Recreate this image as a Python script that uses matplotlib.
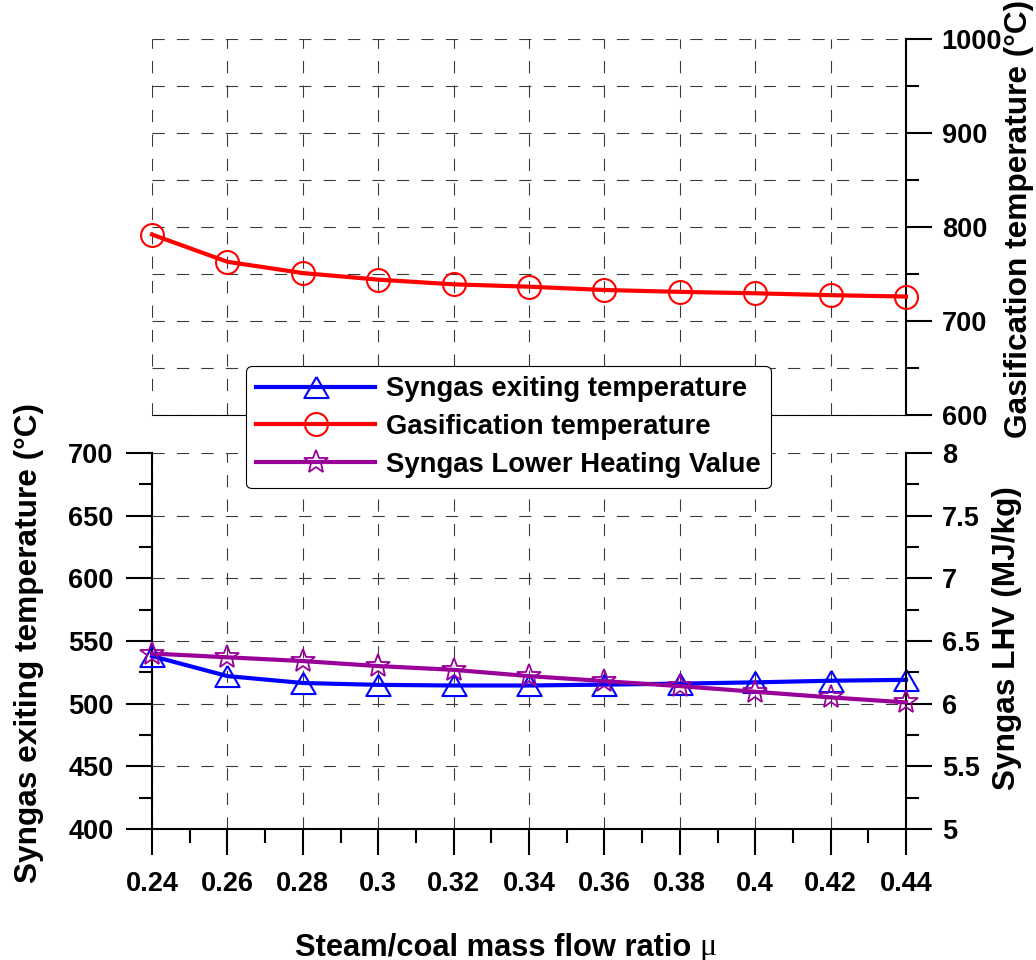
import matplotlib
matplotlib.use("Agg")
import matplotlib.pyplot as plt
import numpy as np
from matplotlib.ticker import MultipleLocator, FixedLocator
from matplotlib.lines import Line2D

plt.rcParams['font.family'] = ['Liberation Sans', 'DejaVu Sans']
plt.rcParams['font.weight'] = 'bold'

# ---- data ----
ratio = [0.24, 0.26, 0.28, 0.30, 0.32, 0.34, 0.36, 0.38, 0.40, 0.42, 0.44]
gasif_temp = [792, 763, 751, 744, 739, 736.5, 733, 731, 729.5, 727.5, 726]
syngas_exit_temp = [538, 522, 516.5, 515, 514.5, 514.5, 515.2, 516, 517, 518.3, 519]
syngas_lhv = [6.40, 6.37, 6.34, 6.30, 6.27, 6.22, 6.18, 6.14, 6.095, 6.05, 6.01]
xticks = [0.24, 0.26, 0.28, 0.30, 0.32, 0.34, 0.36, 0.38, 0.40, 0.42, 0.44]
xtick_labels = ['0.24', '0.26', '0.28', '0.3', '0.32', '0.34', '0.36', '0.38', '0.4', '0.42', '0.44']
labels = ['Syngas exiting temperature', 'Gasification temperature', 'Syngas Lower Heating Value']

BLUE = '#0000ff'
RED = '#ff0000'
PURPLE = '#990099'
GRIDC = '#3a3a3a'
grid_kw = dict(color=GRIDC, linewidth=0.8, linestyle=(0, (11, 11)))

FW, FH = 1036, 960
fig = plt.figure(figsize=(FW / 100, FH / 100), dpi=100)

L = 152 / FW
W = 754 / FW
H = 376 / FH
ax_t = fig.add_axes([L, 1 - 415 / FH, W, H])
ax_b = fig.add_axes([L, 1 - 829 / FH, W, H])
ax_r = ax_b.twinx()

tri = [(0, 0.5), (-0.577, -0.5), (0.577, -0.5), (0, 0.5)]

TICK = 19.5

# ---- top panel ----
ax_t.set_xlim(0.24, 0.44)
ax_t.set_ylim(600, 1000)
ax_t.plot(ratio, gasif_temp, color=RED, lw=3, marker='o', ms=16.5, mfc='none',
          mec=RED, mew=1.5, clip_on=False, zorder=5)
for s in ['left', 'top']:
    ax_t.spines[s].set_visible(False)
ax_t.spines['right'].set_linewidth(1.5)
ax_t.spines['bottom'].set_linewidth(0.8)
ax_t.yaxis.tick_right()
ax_t.yaxis.set_major_locator(MultipleLocator(100))
ax_t.yaxis.set_minor_locator(MultipleLocator(50))
ax_t.xaxis.set_major_locator(FixedLocator(xticks))
ax_t.tick_params(axis='x', which='both', length=0, labelbottom=False)
ax_t.tick_params(axis='y', which='major', direction='out', length=18.7, width=1.5,
                 labelsize=TICK, pad=7)
ax_t.tick_params(axis='y', which='minor', direction='out', length=9.4, width=1.5)
ax_t.set_axisbelow(True)
ax_t.grid(True, which='both', axis='y', **grid_kw)
ax_t.grid(True, which='major', axis='x', **grid_kw)

# ---- bottom panel ----
ax_b.set_xlim(0.24, 0.44)
ax_b.set_ylim(400, 700)
ax_r.set_ylim(5, 8)
ax_b.plot(ratio, syngas_exit_temp, color=BLUE, lw=3, marker=tri, ms=17.5, mfc='none',
          mec=BLUE, mew=1.5, clip_on=False, zorder=5)
ax_r.plot(ratio, syngas_lhv, color=PURPLE, lw=3, marker='*', ms=18, mfc='none',
          mec=PURPLE, mew=1.3, clip_on=False, zorder=5)
ax_b.spines['top'].set_visible(False)
ax_b.spines['right'].set_visible(False)
for s in ['left', 'top', 'bottom']:
    ax_r.spines[s].set_visible(False)
for s in ['left', 'bottom']:
    ax_b.spines[s].set_linewidth(1.5)
ax_r.spines['right'].set_linewidth(1.5)

ax_b.xaxis.set_major_locator(FixedLocator(xticks))
ax_b.xaxis.set_minor_locator(MultipleLocator(0.01))
ax_b.set_xticklabels(xtick_labels)
ax_b.yaxis.set_major_locator(MultipleLocator(50))
ax_b.yaxis.set_minor_locator(MultipleLocator(25))
ax_r.yaxis.set_minor_locator(MultipleLocator(0.25))
ax_r.set_yticks([5, 5.5, 6, 6.5, 7, 7.5, 8])
ax_r.set_yticklabels(['5', '5.5', '6', '6.5', '7', '7.5', '8'])

ax_b.tick_params(axis='x', which='major', direction='out', length=18.7, width=1.5,
                 labelsize=TICK, pad=11.5)
ax_b.tick_params(axis='x', which='minor', direction='out', length=10, width=1.5)
ax_b.tick_params(axis='y', which='major', direction='out', length=18.7, width=1.5,
                 labelsize=TICK, pad=9)
ax_b.tick_params(axis='y', which='minor', direction='out', length=9.4, width=1.5)
ax_r.tick_params(axis='y', which='major', direction='out', length=18.7, width=1.5,
                 labelsize=TICK, pad=7)
ax_r.tick_params(axis='y', which='minor', direction='out', length=9.4, width=1.5)
ax_b.set_axisbelow(True)
ax_b.grid(True, which='major', axis='both', **grid_kw)

# ---- axis labels ----
LAB = 22.8
lab_kw = dict(fontsize=LAB, fontweight='bold', rotation=90, ha='center', va='center')
fig.text(29 / FW, 1 - 643 / FH, 'Syngas exiting temperature (°C)', **lab_kw)
fig.text(1007 / FW, 1 - 638 / FH, 'Syngas LHV (MJ/kg)', **lab_kw)
fig.text(1019 / FW, 1 - 219 / FH, 'Gasification temperature (°C)', **lab_kw)

t1 = fig.text(0, 1 - 955 / FH, 'Steam/coal mass flow ratio ', fontsize=22.2,
              fontweight='bold', ha='left', va='baseline')
t2 = fig.text(0, 1 - 955 / FH, 'μ', fontsize=23, family=['Liberation Serif', 'DejaVu Serif'],
              fontweight='normal', ha='left', va='baseline')
fig.canvas.draw()
r = fig.canvas.get_renderer()
w1 = t1.get_window_extent(r).width
w2 = t2.get_window_extent(r).width
x0 = 506 - (w1 + w2) / 2
t1.set_x(x0 / FW)
t2.set_x((x0 + w1) / FW)

# ---- legend ----
handles = [
    Line2D([], [], color=BLUE, lw=3, marker=tri, ms=17.5, mfc='none', mec=BLUE, mew=1.5),
    Line2D([], [], color=RED, lw=3, marker='o', ms=16.5, mfc='none', mec=RED, mew=1.5),
    Line2D([], [], color=PURPLE, lw=3, marker='*', ms=18, mfc='none', mec=PURPLE, mew=1.3),
]
leg = fig.legend(handles, labels, loc='upper left', bbox_to_anchor=(246 / FW, 1 - 366 / FH),
                 borderaxespad=0, fontsize=19.8, handlelength=4.3, handletextpad=0.4,
                 labelspacing=0.42, borderpad=0.38, frameon=True, fancybox=True,
                 edgecolor='black', framealpha=1, facecolor='white')
leg.get_frame().set_linewidth(0.8)

fig.savefig('out.png', dpi=100)
